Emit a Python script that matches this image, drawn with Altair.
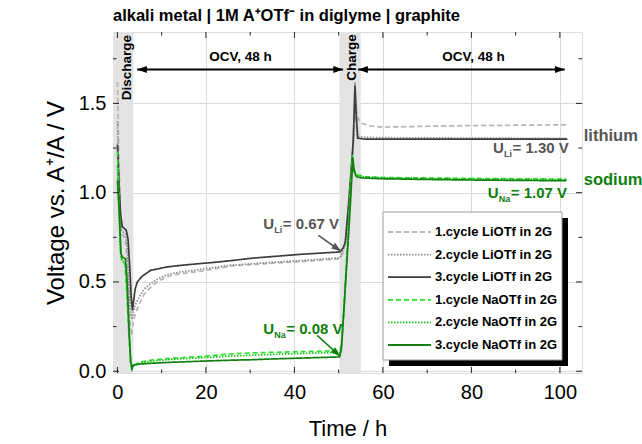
import math
import altair as alt
import pandas as pd

FONT = "Liberation Sans"
W, H = 469, 341
T_DOMAIN = [-1, 105]
V_DOMAIN = [-0.01, 1.9]

# ---- series -------------------------------------------------------------
names = [
    "1.cycle LiOTf in 2G", "2.cycle LiOTf in 2G", "3.cycle LiOTf in 2G",
    "1.cycle NaOTf in 2G", "2.cycle NaOTf in 2G", "3.cycle NaOTf in 2G",
]
colors = ["#b5b5b5", "#8a8a8a", "#3d3d3d", "#2fe02f", "#12c612", "#137f13"]
dashes = [[5, 3], [1.5, 1.5], [1, 0], [5, 3], [1.5, 1.5], [1, 0]]

t_li1 = [0, 0.25, 0.6, 0.9, 1.6, 2.0, 2.5, 2.9, 3.2, 3.5, 4.0, 5.0, 6.0, 7.5, 9.0, 11.2, 14, 18.7, 26, 34, 42, 50.3,
         50.9, 51.5, 52.2, 52.9, 53.5, 53.9, 54.3, 55, 57, 60, 70, 80, 90, 101.7]
v_li1 = [1.62, 1.30, 0.95, 0.77, 0.75, 0.70, 0.45, 0.25, 0.20, 0.26, 0.32, 0.38, 0.43, 0.47, 0.50, 0.53, 0.545, 0.56,
         0.59, 0.603, 0.615, 0.63, 0.66, 0.72, 0.90, 1.10, 1.35, 1.50, 1.42, 1.39, 1.375, 1.367, 1.372, 1.376, 1.378, 1.38]

t_li2 = [0, 0.25, 0.6, 0.9, 1.8, 2.2, 2.6, 3.0, 3.3, 3.6, 4.0, 5.0, 6.0, 7.5, 9.0, 11.2, 14, 18.7, 26, 34, 42, 50.3,
         50.9, 51.5, 52.2, 52.8, 53.3, 53.7, 54.0, 54.4, 56, 60, 70, 80, 90, 101.7]
v_li2 = [1.40, 1.15, 0.90, 0.79, 0.77, 0.70, 0.50, 0.33, 0.29, 0.33, 0.37, 0.42, 0.46, 0.49, 0.515, 0.54, 0.555, 0.57,
         0.595, 0.608, 0.62, 0.635, 0.67, 0.73, 0.91, 1.10, 1.28, 1.62, 1.42, 1.315, 1.31, 1.308, 1.307, 1.306, 1.305, 1.305]

t_li3 = [0, 0.3, 0.7, 1.1, 2.0, 2.4, 2.8, 3.1, 3.4, 3.7, 4.0, 4.5, 5.5, 7.5, 11.2, 14, 18.7, 22, 26.3, 30, 33.9, 41.5,
         50.3, 51.0, 51.5, 52.2, 52.8, 53.3, 53.7, 54.0, 54.3, 56, 60, 70, 80, 90, 101.7]
v_li3 = [1.27, 1.08, 0.88, 0.81, 0.79, 0.74, 0.58, 0.42, 0.34, 0.40, 0.46, 0.50, 0.53, 0.565, 0.584, 0.592, 0.603, 0.61,
         0.621, 0.632, 0.64, 0.655, 0.668, 0.69, 0.72, 0.92, 1.12, 1.29, 1.60, 1.42, 1.305, 1.30, 1.30, 1.30, 1.30, 1.30,
         1.30]

t_na1 = [0, 0.3, 0.7, 1.0, 1.7, 2.1, 2.6, 3.0, 3.25, 3.6, 4.5, 6, 8, 12, 18.7, 26, 30, 34, 42, 50.3,
         50.7, 51.3, 52.0, 52.6, 53.1, 53.5, 54.1, 56, 60, 70, 80, 90, 101.5]
v_na1 = [1.23, 1.00, 0.68, 0.62, 0.60, 0.45, 0.20, 0.04, 0.01, 0.03, 0.045, 0.055, 0.063, 0.072, 0.082, 0.097, 0.102,
         0.105, 0.11, 0.115, 0.16, 0.40, 0.72, 1.00, 1.21, 1.13, 1.10, 1.09, 1.085, 1.082, 1.08, 1.078, 1.076]

t_na2 = [0, 0.3, 0.7, 1.0, 1.8, 2.2, 2.6, 3.0, 3.3, 3.6, 4.5, 6, 8, 12, 18.7, 26, 34, 42, 50.3,
         50.7, 51.3, 52.0, 52.6, 53.1, 53.5, 54.1, 56, 60, 70, 80, 90, 101.5]
v_na2 = [1.15, 0.95, 0.66, 0.62, 0.60, 0.44, 0.22, 0.05, 0.015, 0.03, 0.04, 0.05, 0.057, 0.066, 0.075, 0.085, 0.093,
         0.10, 0.105, 0.14, 0.38, 0.70, 0.98, 1.19, 1.12, 1.095, 1.088, 1.084, 1.08, 1.077, 1.075, 1.073]

t_na3 = [0, 0.4, 0.8, 1.1, 1.8, 2.2, 2.6, 3.0, 3.3, 3.6, 5, 8, 12, 18.7, 26, 30, 34, 42, 50.2,
         50.6, 51.2, 51.7, 52.3, 52.8, 53.2, 53.5, 54.0, 55, 60, 70, 80, 90, 101.5]
v_na3 = [1.07, 0.90, 0.66, 0.64, 0.63, 0.50, 0.25, 0.05, 0.015, 0.035, 0.04, 0.045, 0.05, 0.056, 0.062, 0.064, 0.068,
         0.074, 0.08, 0.12, 0.35, 0.55, 0.79, 1.00, 1.20, 1.12, 1.09, 1.083, 1.078, 1.074, 1.071, 1.069, 1.067]

t_all = [t_li1, t_li2, t_li3, t_na1, t_na2, t_na3]
v_all = [v_li1, v_li2, v_li3, v_na1, v_na2, v_na3]

# ---- phases, ticks and annotations --------------------------------------
phase_start = [-1, 50.2]
phase_end = [3.6, 55.0]
phase_label = ["Discharge", "Charge"]
phase_label_t = [2.26, 53.0]
phase_label_v = [1.70, 1.757]

ocv_text_t = [27.8, 80.5]
ocv_text_v = [1.76, 1.76]
ocv_from = [4.45, 54.4]
ocv_to = [51.0, 101.1]
ocv_v = 1.69

x_major = [0, 20, 40, 60, 80, 100]
x_minor = [10, 30, 50, 70, 90]
y_major = [0.0, 0.5, 1.0, 1.5]
y_minor = [0.25, 0.75, 1.25, 1.75]

LI_GRAY = "#555555"
NA_GREEN = "#0e7f0e"

# ---- scales & axes ------------------------------------------------------
xs = alt.Scale(domain=T_DOMAIN, nice=False, zero=False)
ys = alt.Scale(domain=V_DOMAIN, nice=False, zero=False)

x_axis = alt.Axis(values=x_major, grid=True, gridColor="#dadada", ticks=False, domain=False,
                  labelFont=FONT, labelFontSize=20, labelColor="black", labelPadding=9,
                  title="Time / h", titleFont=FONT, titleFontSize=22, titleFontWeight="normal",
                  titleColor="black", titleX=W / 2, titleY=55, titleAlign="center",
                  titleBaseline="middle")
y_axis = alt.Axis(values=y_major, format=".1f", grid=True, gridColor="#dadada", ticks=False,
                  domain=False, labelFont=FONT, labelFontSize=20, labelColor="black", labelPadding=7,
                  title="Voltage vs. A\u207a/A / V", titleFont=FONT, titleFontSize=24,
                  titleFontWeight="normal", titleColor="black", titleX=-57, titleY=H / 2,
                  titleAngle=270, titleAlign="center", titleBaseline="middle")


def X(field="t"):
    return alt.X(f"{field}:Q", scale=xs, axis=x_axis)


def Y(field="v"):
    return alt.Y(f"{field}:Q", scale=ys, axis=y_axis)


one_row = pd.DataFrame({"k": [0]})

# shaded discharge / charge windows
bands = alt.Chart(pd.DataFrame({"t": phase_start, "t_end": phase_end})).mark_rect(color="#e3e3e3").encode(
    x=X(), x2="t_end:Q", y=alt.value(0), y2=alt.value(H))

# voltage curves
curves = pd.concat(
    [pd.DataFrame({"t": t, "v": v, "series": n}) for n, t, v in zip(names, t_all, v_all)],
    ignore_index=True)

legend = alt.Legend(title=None, orient="none", legendX=274, legendY=192, padding=0,
                    symbolType="stroke", symbolSize=1849, symbolStrokeWidth=1.8, clipHeight=16,
                    rowPadding=6.6, labelFont=FONT, labelFontSize=13, labelFontWeight="bold",
                    labelColor="black", labelOffset=3)

lines = alt.Chart(curves).mark_line(strokeWidth=1.7).encode(
    x=X(), y=Y(),
    color=alt.Color("series:N", scale=alt.Scale(domain=names, range=colors), legend=legend),
    strokeDash=alt.StrokeDash("series:N", scale=alt.Scale(domain=names, range=dashes), legend=legend),
    order=alt.Order("t:Q"),
)

# legend box with drop shadow
shadow = alt.Chart(one_row).mark_rect(color="black").encode(
    x=alt.value(276), x2=alt.value(455), y=alt.value(186), y2=alt.value(334))
box = alt.Chart(one_row).mark_rect(fill="white", stroke="#9a9a9a", strokeWidth=1).encode(
    x=alt.value(270), x2=alt.value(449), y=alt.value(180), y2=alt.value(328))


# inward ticks on all four sides
def tick_layers():
    out = []
    for vals, size in ((x_major, 6), (x_minor, 3.5)):
        d = pd.DataFrame({"t": vals})
        out.append(alt.Chart(d).mark_rule(color="#222", strokeWidth=1).encode(
            x=X(), y=alt.value(H), y2=alt.value(H - size)))
        out.append(alt.Chart(d).mark_rule(color="#222", strokeWidth=1).encode(
            x=X(), y=alt.value(0), y2=alt.value(size)))
    for vals, size in ((y_major, 6), (y_minor, 3.5)):
        d = pd.DataFrame({"v": vals})
        out.append(alt.Chart(d).mark_rule(color="#222", strokeWidth=1).encode(
            y=Y(), x=alt.value(0), x2=alt.value(size)))
        out.append(alt.Chart(d).mark_rule(color="#222", strokeWidth=1).encode(
            y=Y(), x=alt.value(W), x2=alt.value(W - size)))
    return out


ARROW = "M0,0L-0.35,1L0.35,1Z"
PX_T = W / (T_DOMAIN[1] - T_DOMAIN[0])
PX_V = H / (V_DOMAIN[1] - V_DOMAIN[0])


def heading(t0, v0, t1, v1):
    dx = (t1 - t0) * PX_T
    dy = -(v1 - v0) * PX_V
    return math.degrees(math.atan2(dx, -dy)) % 360


# OCV double arrows
ocv_df = pd.DataFrame({"t": ocv_from, "t2": ocv_to, "v": [ocv_v] * 2})
ocv_line = alt.Chart(ocv_df).mark_rule(color="black", strokeWidth=1.8).encode(
    x=X(), x2="t2:Q", y=Y())
heads = pd.DataFrame({"t": ocv_from + ocv_to, "v": [ocv_v] * 4, "ang": [270, 270, 90, 90]})
ocv_heads = alt.Chart(heads).mark_point(shape=ARROW, filled=True, size=380, color="black", opacity=1).encode(
    x=X(), y=Y(), angle=alt.Angle("ang:Q", scale=None))
ocv_text = alt.Chart(pd.DataFrame({"t": ocv_text_t, "v": ocv_text_v, "s": ["OCV, 48 h"] * 2})).mark_text(
    font=FONT, fontSize=13.5, fontWeight="bold", color="black", align="center", baseline="middle").encode(
    x=X(), y=Y(), text="s:N")

phase_text = alt.Chart(pd.DataFrame({"t": phase_label_t, "v": phase_label_v, "s": phase_label})).mark_text(
    font=FONT, fontSize=13.5, fontWeight="bold", color="black", align="center", baseline="middle",
    angle=270).encode(x=X(), y=Y(), text="s:N")

# diagonal pointers to the end-of-rest voltages
pointer_from_t = [45.4, 45.15]
pointer_from_v = [0.761, 0.201]
pointer_to_t = [50.56, 50.34]
pointer_to_v = [0.672, 0.084]
pointer_color = [LI_GRAY, NA_GREEN]
pointer_layers = []
for t0, v0, t1, v1, c in zip(pointer_from_t, pointer_from_v, pointer_to_t, pointer_to_v, pointer_color):
    d = pd.DataFrame({"t": [t0], "v": [v0], "t2": [t1], "v2": [v1]})
    pointer_layers.append(alt.Chart(d).mark_rule(color=c, strokeWidth=1.6).encode(
        x=X(), y=Y(), x2="t2:Q", y2="v2:Q"))
    h = pd.DataFrame({"t": [t1], "v": [v1], "ang": [heading(t0, v0, t1, v1)]})
    pointer_layers.append(alt.Chart(h).mark_point(shape=ARROW, filled=True, size=380, color=c, opacity=1).encode(
        x=X(), y=Y(), angle=alt.Angle("ang:Q", scale=None)))

# "U_sub = value" labels
ann_t = [32.96, 32.96, 84.9, 83.7]
ann_v = [0.823, 0.235, 1.248, 1.0]
ann_sub = ["Li", "Na", "Li", "Na"]
ann_rest = ["= 0.67 V", " = 0.08 V", "= 1.30 V", " = 1.07 V"]
ann_color = [LI_GRAY, NA_GREEN, LI_GRAY, NA_GREEN]
sub_width = {"Li": 8.0, "Na": 11.5}
ann_layers = []
for t, v, sub, rest, c in zip(ann_t, ann_v, ann_sub, ann_rest, ann_color):
    d = pd.DataFrame({"t": [t], "v": [v], "a": ["U"], "b": [sub], "c": [rest]})
    base = alt.Chart(d)
    ann_layers.append(base.mark_text(font=FONT, fontSize=15, fontWeight="bold", color=c, align="left",
                                     baseline="middle").encode(x=X(), y=Y(), text="a:N"))
    ann_layers.append(base.mark_text(font=FONT, fontSize=9, fontWeight="bold", color=c, align="left",
                                     baseline="middle", dx=11, dy=6).encode(x=X(), y=Y(), text="b:N"))
    ann_layers.append(base.mark_text(font=FONT, fontSize=15, fontWeight="bold", color=c, align="left",
                                     baseline="middle", dx=11.5 + sub_width[sub]).encode(x=X(), y=Y(), text="c:N"))

# metal labels at the right edge
metal_t = [105.4, 105.4]
metal_v = [1.32, 1.069]
metal_name = ["lithium", "sodium"]
metal_color = [LI_GRAY, NA_GREEN]
metal_layers = [
    alt.Chart(pd.DataFrame({"t": [t], "v": [v], "s": [s]})).mark_text(
        font=FONT, fontSize=16.5, fontWeight="bold", align="left", baseline="middle", color=c).encode(
        x=X(), y=Y(), text="s:N")
    for t, v, s, c in zip(metal_t, metal_v, metal_name, metal_color)
]

chart = alt.layer(
    bands, lines, *tick_layers(), ocv_line, ocv_heads, ocv_text, phase_text,
    *pointer_layers, *ann_layers, *metal_layers, shadow, box,
).properties(
    width=W, height=H,
    autosize="none",
    padding={"left": 113, "top": 32, "right": 60, "bottom": 71},
    title=alt.TitleParams(text="alkali metal | 1M A\u207aOTf\u207b in diglyme | graphite", anchor="start",
                          frame="group", font=FONT, fontSize=16.5, fontWeight="bold", color="black",
                          offset=7),
).configure_view(stroke="#222", strokeWidth=1.2).configure(background="white")

chart.save("out.html", embed_options={"renderer": "svg", "actions": False})
